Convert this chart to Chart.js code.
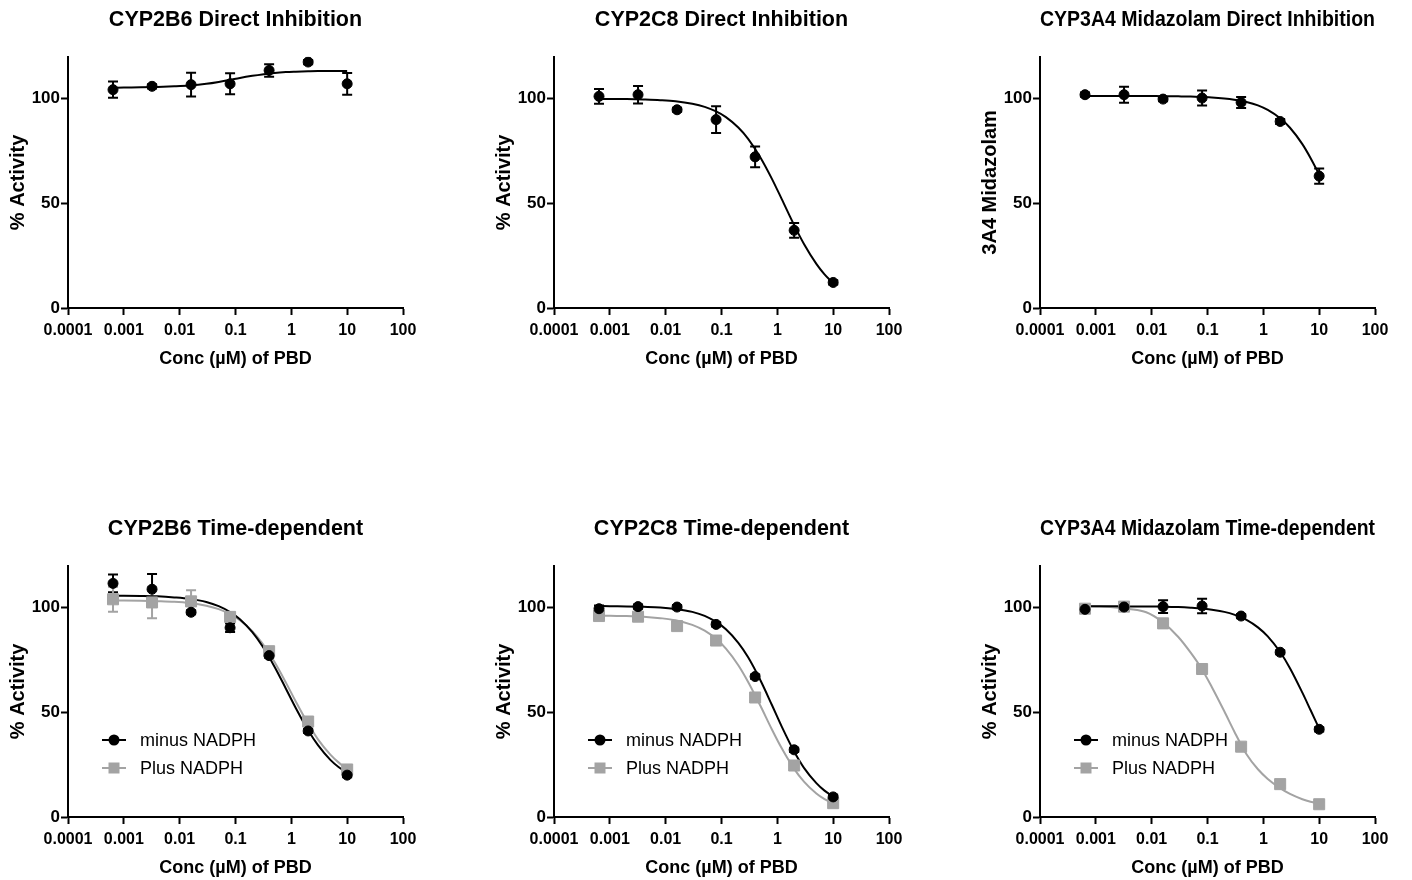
<!DOCTYPE html>
<html lang="en">
<head>
    <meta charset="UTF-8">
    <title>CYP inhibition by PBD</title>
    <script src="https://cdn.jsdelivr.net/npm/chart.js"></script>
    <style>
        body {
            margin: 0;
            width: 1412px;
            height: 880px;
            position: relative;
            overflow: hidden;
            background: #fff;
        }
        .panel {
            position: absolute;
        }
    </style>
</head>
<body>
    <div class="panel" style="left:0px;top:0px"><canvas id="p1" width="440" height="380"></canvas></div>
    <div class="panel" style="left:486px;top:0px"><canvas id="p2" width="440" height="380"></canvas></div>
    <div class="panel" style="left:972px;top:0px"><canvas id="p3" width="440" height="380"></canvas></div>
    <div class="panel" style="left:0px;top:509px"><canvas id="p4" width="440" height="380"></canvas></div>
    <div class="panel" style="left:486px;top:509px"><canvas id="p5" width="440" height="380"></canvas></div>
    <div class="panel" style="left:972px;top:509px"><canvas id="p6" width="440" height="380"></canvas></div>

    <script>
        // axis ticks
        const xTicks = [0.0001, 0.001, 0.01, 0.1, 1, 10, 100];
        const xTickLabels = ['0.0001', '0.001', '0.01', '0.1', '1', '10', '100'];
        const yTicks = [0, 50, 100];

        // tested concentrations (uM) and points along the fitted curves
        const doseConc = [0.00064, 0.0032, 0.016, 0.08, 0.4, 2, 10];
        const fitConc = [0.00064, 0.001, 0.002, 0.004, 0.008, 0.015, 0.03, 0.05, 0.08, 0.12,
                         0.2, 0.3, 0.5, 0.8, 1.2, 2, 3, 5, 7, 10];

        // CYP2B6 direct
        const b6DirectMean = [104.3, 105.9, 106.7, 107.1, 113.5, 117.5, 107.1];
        const b6DirectErr  = [3.9, 1.0, 5.7, 5.0, 3.0, 1.0, 5.2];
        const b6DirectFit  = [105.2, 105.3, 105.4, 105.6, 105.9, 106.3, 107.1, 108.0, 109.0, 109.9,
                              110.9, 111.6, 112.3, 112.7, 112.9, 113.1, 113.2, 113.2, 113.2, 113.2];

        // CYP2C8 direct
        const c8DirectMean = [101.1, 101.9, 94.7, 90.0, 72.2, 37.1, 12.2];
        const c8DirectErr  = [3.5, 4.2, 1.0, 6.4, 5.0, 3.5, 1.0];
        const c8DirectFit  = [99.9, 99.9, 99.8, 99.6, 99.3, 98.8, 97.6, 96.1, 93.9, 91.2,
                              86.2, 80.8, 71.8, 61.7, 52.0, 39.6, 30.6, 21.1, 16.1, 11.9];

        // CYP3A4 midazolam direct
        const a4DirectMean = [101.9, 101.9, 99.8, 100.3, 98.2, 89.1, 63.0];
        const a4DirectErr  = [1.0, 3.8, 1.0, 3.6, 2.6, 1.2, 3.6];
        const a4DirectFit  = [101.3, 101.3, 101.3, 101.3, 101.3, 101.2, 101.1, 101.0, 100.8, 100.6,
                              100.1, 99.5, 98.4, 96.8, 94.6, 90.6, 86.1, 78.3, 71.7, 63.8];

        // CYP2B6 time-dependent
        const b6MinusMean = [111.6, 108.8, 97.8, 90.4, 77.1, 41.1, 20.0];
        const b6MinusErr  = [4.2, 7.3, 1.0, 2.0, 1.0, 1.0, 1.0];
        const b6MinusFit  = [105.7, 105.7, 105.6, 105.4, 104.9, 104.2, 102.7, 100.7, 97.9, 94.5,
                             88.3, 81.8, 71.8, 61.3, 52.1, 41.4, 34.3, 27.3, 23.9, 21.2];
        const b6PlusMean  = [104.0, 102.5, 103.0, 95.6, 79.2, 45.6, 22.7];
        const b6PlusErr   = [6.0, 7.5, 5.3, 1.0, 1.0, 1.0, 1.0];
        const b6PlusFit   = [103.4, 103.4, 103.3, 103.1, 102.8, 102.2, 100.9, 99.3, 96.9, 94.0,
                             88.8, 83.1, 74.0, 64.2, 55.2, 44.5, 37.1, 29.8, 26.1, 23.0];

        // CYP2C8 time-dependent
        const c8MinusMean = [99.5, 100.5, 100.3, 92.0, 67.1, 32.1, 9.6];
        const c8MinusErr  = [1.5, 1.0, 1.0, 1.0, 1.0, 1.0, 1.0];
        const c8MinusFit  = [100.8, 100.7, 100.6, 100.4, 100.1, 99.4, 98.0, 96.1, 93.2, 89.7,
                             83.2, 76.3, 65.2, 53.5, 43.2, 31.3, 23.5, 16.2, 12.6, 9.8];
        const c8PlusMean  = [96.0, 95.7, 91.2, 84.3, 57.1, 24.6, 6.6];
        const c8PlusErr   = [1.0, 1.0, 1.0, 1.0, 1.0, 1.0, 1.0];
        const c8PlusFit   = [96.2, 96.1, 96.0, 95.7, 95.0, 94.0, 91.8, 89.0, 85.1, 80.4,
                             72.5, 64.5, 53.0, 41.8, 32.8, 23.0, 16.9, 11.2, 8.5, 6.4];

        // CYP3A4 midazolam time-dependent
        const a4MinusMean = [99.2, 100.3, 100.5, 100.8, 96.0, 78.7, 41.9];
        const a4MinusErr  = [1.0, 1.0, 3.0, 3.5, 1.0, 1.0, 1.0];
        const a4MinusFit  = [100.7, 100.7, 100.7, 100.6, 100.6, 100.5, 100.3, 100.0, 99.6, 99.0,
                             98.0, 96.7, 94.2, 90.6, 86.3, 78.8, 71.1, 59.4, 51.1, 42.2];
        const a4PlusMean  = [99.5, 100.5, 92.5, 70.7, 33.6, 15.7, 6.1];
        const a4PlusErr   = [1.0, 1.0, 1.0, 1.0, 1.0, 1.0, 1.0];
        const a4PlusFit   = [100.8, 100.6, 100.2, 99.4, 97.8, 93.5, 86.0, 78.5, 70.5, 62.0,
                             50.5, 41.0, 30.0, 22.8, 18.2, 13.8, 11.0, 8.5, 7.3, 6.4];

        const BLACK = '#000000';
        const GREY = '#a3a3a3';
        Chart.defaults.font.family = '"Liberation Sans", Arial, sans-serif';
        Chart.defaults.color = '#000';

        function xy(xs, ys) {
            return xs.map((v, i) => ({ x: v, y: ys[i] }));
        }

        // vertical error bars with caps, drawn under the markers
        const errorBars = {
            id: 'errorBars',
            beforeDatasetsDraw(chart) {
                const { ctx, scales: { x, y } } = chart;
                chart.data.datasets.forEach(ds => {
                    if (!ds.errors) return;
                    ctx.save();
                    ctx.strokeStyle = ds.pointBackgroundColor;
                    ctx.lineWidth = 2;
                    ds.data.forEach((p, j) => {
                        const e = ds.errors[j];
                        const px = x.getPixelForValue(p.x);
                        const top = y.getPixelForValue(p.y + e);
                        const bot = y.getPixelForValue(p.y - e);
                        ctx.beginPath();
                        ctx.moveTo(px, top); ctx.lineTo(px, bot);
                        ctx.moveTo(px - 5, top); ctx.lineTo(px + 5, top);
                        ctx.moveTo(px - 5, bot); ctx.lineTo(px + 5, bot);
                        ctx.stroke();
                    });
                    ctx.restore();
                });
            }
        };

        // legend inside the plot (lower left)
        const insideLegend = {
            id: 'insideLegend',
            afterDatasetsDraw(chart, args, opts) {
                if (!opts.items) return;
                const { ctx, chartArea } = chart;
                opts.items.forEach((it, k) => {
                    const ds = chart.data.datasets[it.dataset];
                    const yy = chartArea.bottom - 77 + k * 28;
                    const x0 = chartArea.left + 34, x1 = chartArea.left + 58;
                    const cx = (x0 + x1) / 2;
                    ctx.save();
                    ctx.strokeStyle = ds.pointBackgroundColor;
                    ctx.fillStyle = ds.pointBackgroundColor;
                    ctx.lineWidth = 2;
                    ctx.beginPath();
                    ctx.moveTo(x0, yy); ctx.lineTo(x1, yy);
                    ctx.stroke();
                    if (ds.pointStyle === 'rect') {
                        ctx.fillRect(cx - 5.5, yy - 5.5, 11, 11);
                    } else {
                        ctx.beginPath();
                        ctx.arc(cx, yy, 5.5, 0, Math.PI * 2);
                        ctx.fill();
                    }
                    ctx.fillStyle = '#000';
                    ctx.font = '18px "Liberation Sans", Arial, sans-serif';
                    ctx.textAlign = 'left';
                    ctx.textBaseline = 'middle';
                    ctx.fillText(it.text, chartArea.left + 72, yy + 1);
                    ctx.restore();
                });
            }
        };

        function fitSet(values, color) {
            return {
                data: xy(fitConc, values),
                borderColor: color,
                borderWidth: 2,
                pointRadius: 0,
                cubicInterpolationMode: 'monotone',
                fill: false
            };
        }

        function pointSet(values, errs, color, style) {
            return {
                data: xy(doseConc, values),
                errors: errs,
                showLine: false,
                pointStyle: style,
                pointRadius: style === 'rect' ? 7.8 : 5,
                pointBackgroundColor: color,
                pointBorderColor: color,
                pointBorderWidth: 1
            };
        }

        function makePanel(id, title, yTitle, datasets, legendItems) {
            const axisLine = { color: BLACK, width: 2 };
            const tickMarks = { drawOnChartArea: false, drawTicks: true, tickLength: 7, tickWidth: 2, tickColor: BLACK };
            new Chart(document.getElementById(id), {
                type: 'line',
                data: { datasets: datasets },
                options: {
                    responsive: false,
                    animation: false,
                    layout: { padding: { left: 0, right: 37, top: 0, bottom: 0 } },
                    scales: {
                        x: {
                            type: 'logarithmic',
                            min: 0.0001,
                            max: 100,
                            afterBuildTicks: s => { s.ticks = xTicks.map(v => ({ value: v })); },
                            afterFit: s => { s.height = 72; },
                            ticks: {
                                callback: (v, i) => xTickLabels[i],
                                font: { size: 16, weight: 'bold' },
                                color: BLACK,
                                padding: 6,
                                maxRotation: 0,
                                autoSkip: false
                            },
                            grid: tickMarks,
                            border: axisLine,
                            title: {
                                display: true,
                                text: 'Conc (µM) of PBD',
                                font: { size: 18, weight: 'bold' },
                                color: BLACK,
                                padding: { top: 0, bottom: 10 }
                            }
                        },
                        y: {
                            min: 0,
                            max: 120,
                            afterBuildTicks: s => { s.ticks = yTicks.map(v => ({ value: v })); },
                            afterFit: s => { s.width = 68; },
                            ticks: { font: { size: 17, weight: 'bold' }, color: BLACK, padding: 1 },
                            grid: tickMarks,
                            border: axisLine,
                            title: {
                                display: true,
                                text: yTitle,
                                font: { size: 20, weight: 'bold' },
                                color: BLACK,
                                padding: { top: 6, bottom: 0 }
                            }
                        }
                    },
                    plugins: {
                        legend: { display: false },
                        tooltip: { enabled: false },
                        title: {
                            display: true,
                            text: title,
                            fullSize: false,
                            font: { size: 21.5, weight: 'bold' },
                            color: BLACK,
                            padding: { top: 7, bottom: 24 }
                        },
                        insideLegend: { items: legendItems }
                    }
                },
                plugins: [errorBars, insideLegend]
            });
        }

        const tdLegend = [
            { dataset: 0, text: 'minus NADPH' },
            { dataset: 1, text: 'Plus NADPH' }
        ];

        makePanel('p1', 'CYP2B6 Direct Inhibition', '% Activity', [
            pointSet(b6DirectMean, b6DirectErr, BLACK, 'circle'),
            fitSet(b6DirectFit, BLACK)
        ], null);

        makePanel('p2', 'CYP2C8 Direct Inhibition', '% Activity', [
            pointSet(c8DirectMean, c8DirectErr, BLACK, 'circle'),
            fitSet(c8DirectFit, BLACK)
        ], null);

        makePanel('p3', 'CYP3A4 Midazolam Direct Inhibition', '3A4 Midazolam', [
            pointSet(a4DirectMean, a4DirectErr, BLACK, 'circle'),
            fitSet(a4DirectFit, BLACK)
        ], null);

        makePanel('p4', 'CYP2B6 Time-dependent', '% Activity', [
            pointSet(b6MinusMean, b6MinusErr, BLACK, 'circle'),
            pointSet(b6PlusMean, b6PlusErr, GREY, 'rect'),
            fitSet(b6MinusFit, BLACK),
            fitSet(b6PlusFit, GREY)
        ], tdLegend);

        makePanel('p5', 'CYP2C8 Time-dependent', '% Activity', [
            pointSet(c8MinusMean, c8MinusErr, BLACK, 'circle'),
            pointSet(c8PlusMean, c8PlusErr, GREY, 'rect'),
            fitSet(c8MinusFit, BLACK),
            fitSet(c8PlusFit, GREY)
        ], tdLegend);

        makePanel('p6', 'CYP3A4 Midazolam Time-dependent', '% Activity', [
            pointSet(a4MinusMean, a4MinusErr, BLACK, 'circle'),
            pointSet(a4PlusMean, a4PlusErr, GREY, 'rect'),
            fitSet(a4MinusFit, BLACK),
            fitSet(a4PlusFit, GREY)
        ], tdLegend);
    </script>
</body>
</html>
